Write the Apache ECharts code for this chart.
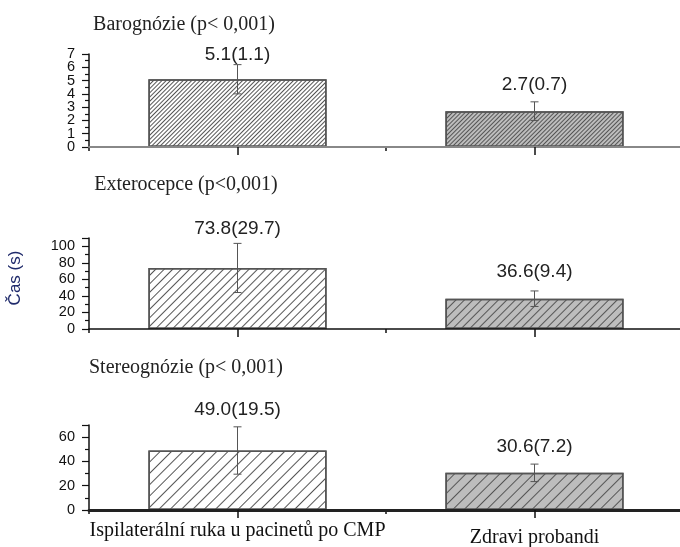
<!DOCTYPE html>
<html><head><meta charset="utf-8">
<script src="https://cdn.jsdelivr.net/npm/echarts@6/dist/echarts.min.js"></script>
<style>html,body{margin:0;padding:0;background:#fff}#c{width:680px;height:547px}</style>
</head><body><div id="c"></div>
<script>
// ---- data ----
const categories = ['Ispilaterální ruka u pacinetů po CMP', 'Zdravi probandi'];
const panelTitles = ['Barognózie (p< 0,001)', 'Exterocepce (p<0,001)', 'Stereognózie (p< 0,001)'];
const baroMean = [5.1, 2.7];
const baroSD = [1.1, 0.7];
const exteroMean = [73.8, 36.6];
const exteroSD = [29.7, 9.4];
const stereoMean = [49.0, 30.6];
const stereoSD = [19.5, 7.2];
const yMax = [7, 110, 70];
const yInterval = [1, 20, 20];
const yAxisName = 'Čas (s)';

const means = [baroMean, exteroMean, stereoMean];
const sds = [baroSD, exteroSD, stereoSD];

// ---- layout / style ----
const layout = [
  {top: 54, height: 93, titleY: 25, gaps: [10, 17], axisColor: '#888', axisWidth: 2, hatch: 2, splitLabels: true},
  {top: 238, height: 91, titleY: 185, gaps: [15, 19], axisColor: '#111', axisWidth: 1.5, hatch: 5, splitLabels: false},
  {top: 425, height: 85, titleY: 368, gaps: [17, 17], axisColor: '#222', axisWidth: 3, hatch: 7, splitLabels: false}
];
const titleX = [184, 186, 186];
const barFill = ['#ffffff', '#bdbdbd'];
const serif = '"Liberation Serif", "Times New Roman", serif';
const sans = '"Liberation Sans", Arial, sans-serif';

const chart = echarts.init(document.getElementById('c'), null, {renderer: 'canvas'});

const grid = [], xAxis = [], yAxis = [], series = [], graphic = [];
layout.forEach((L, i) => {
  grid.push({left: 89, width: 594, top: L.top, height: L.height, outerBoundsMode: 'none', containLabel: false});
  const isLast = i === layout.length - 1;
  xAxis.push({
    type: 'category', gridIndex: i, position: 'bottom',
    data: categories.map((c, k) => ({
      value: c,
      textStyle: {padding: [k === 1 ? 7 : 0, 0, 0, 0]}
    })),
    axisLine: {show: true, lineStyle: {color: L.axisColor, width: L.axisWidth}},
    axisTick: {show: true, alignWithLabel: true, length: 8, lineStyle: {color: '#111', width: 1.5}},
    axisLabel: {show: isLast, interval: 0, margin: 11, fontFamily: serif, fontSize: 20, color: '#111'},
    z: 5
  });
  xAxis.push({
    type: 'category', gridIndex: i, position: 'bottom', offset: 0, data: categories,
    axisLine: {show: false},
    axisTick: {show: true, alignWithLabel: false, length: 4, lineStyle: {color: '#111', width: 1.5}},
    axisLabel: {show: false}
  });
  const step = yInterval[i];
  const isMajor = v => Math.abs(Math.round(v / step) * step - v) < 1e-9;
  const labelBase = {
    margin: 14, fontFamily: sans, fontSize: 14.5, color: '#111',
    hideOverlap: false, showMinLabel: true, showMaxLabel: true
  };
  const mainIndex = yAxis.length;
  yAxis.push({
    type: 'value', gridIndex: i, position: 'left', offset: 0, min: 0, max: yMax[i], interval: step,
    splitLine: {show: false},
    axisLine: {show: true, lineStyle: {color: '#111', width: 1.5}},
    axisTick: {show: true, length: 7, lineStyle: {color: '#111', width: 1.2}},
    minorTick: {show: true, splitNumber: 2, length: 4, lineStyle: {color: '#111', width: 1.2}},
    axisLabel: Object.assign({}, labelBase, {
      formatter: v => (isMajor(v) && (!L.splitLabels || Math.round(v / step) % 2 === 0) ? String(v) : '')
    })
  });
  if (L.splitLabels) {
    yAxis.push({
      type: 'value', gridIndex: i, position: 'left', offset: 0, min: 0, max: yMax[i], interval: step,
      splitLine: {show: false}, axisLine: {show: false}, axisTick: {show: false},
      axisLabel: Object.assign({}, labelBase, {
        formatter: v => (isMajor(v) && Math.round(v / step) % 2 === 1 ? String(v) : '')
      })
    });
  }
  series.push({
    type: 'bar', xAxisIndex: 2 * i, yAxisIndex: mainIndex, barWidth: '60%',
    data: means[i].map((v, k) => ({
      value: v,
      itemStyle: {
        color: barFill[k], borderColor: '#555', borderWidth: 1.5,
        decal: {
          symbol: 'rect', symbolSize: 1, dashArrayX: [1, 0], dashArrayY: [1, L.hatch],
          rotation: -Math.PI / 4, color: '#555', backgroundColor: 'transparent'
        }
      }
    })),
    silent: true, animation: false
  });
  series.push({
    type: 'custom', xAxisIndex: 2 * i, yAxisIndex: mainIndex, z: 10,
    data: means[i].map((v, k) => [k, v, sds[i][k]]),
    renderItem: (params, api) => {
      const idx = api.value(0), m = api.value(1), s = api.value(2);
      const top = api.coord([idx, m + s]);
      const bot = api.coord([idx, m - s]);
      const x = top[0], cap = 4;
      const st = {stroke: '#555', lineWidth: 1};
      return {type: 'group', children: [
        {type: 'line', shape: {x1: x, y1: top[1], x2: x, y2: bot[1]}, style: st},
        {type: 'line', shape: {x1: x - cap, y1: top[1], x2: x + cap, y2: top[1]}, style: st},
        {type: 'line', shape: {x1: x - cap, y1: bot[1], x2: x + cap, y2: bot[1]}, style: st},
        {type: 'text', style: {
          text: m.toFixed(1) + '(' + s.toFixed(1) + ')',
          x: x, y: top[1] - L.gaps[params.dataIndex],
          align: 'center', verticalAlign: 'middle',
          font: '19px ' + sans, fill: '#222'
        }}
      ]};
    },
    silent: true, animation: false
  });
  graphic.push({
    type: 'text', x: titleX[i], y: L.titleY,
    style: {text: panelTitles[i], font: '20px ' + serif, fill: '#222', align: 'center', verticalAlign: 'middle'}
  });
});
graphic.push({
  type: 'text', x: 15, y: 278, rotation: Math.PI / 2,
  style: {text: yAxisName, font: '17px ' + sans, fill: '#1f2a6b', align: 'center', verticalAlign: 'middle'}
});

chart.setOption({
  animation: false,
  backgroundColor: '#fff',
  grid, xAxis, yAxis, series, graphic
});
</script>
</body></html>
